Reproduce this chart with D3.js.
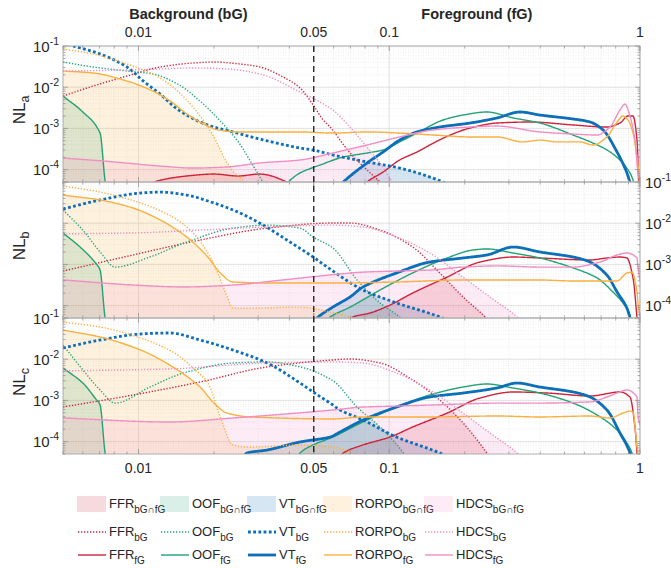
<!DOCTYPE html>
<html>
<head>
<meta charset="utf-8">
<script src="https://cdn.jsdelivr.net/npm/d3@7"></script>
<style>
  body { margin: 0; background: #fff; }
  text { font-family: "Liberation Sans", Arial, sans-serif; fill: #262626; }
  .legend text { font-family: "Liberation Sans Narrow", "Arial Narrow", "Liberation Sans", sans-serif; }
</style>
</head>
<body>
<div id="chart"></div>
<script>
// ---- data (x = fraction, y = NL) ----
var xDomain = [0.005, 1];
var yDomain = [5e-5, 0.1];
var xTickValues = [0.01, 0.05, 0.1, 1];
var xTickLabels = ["0.01", "0.05", "0.1", "1"];
var yTickExponents = [-1, -2, -3, -4];
var methods = ["FFR", "OOF", "VT", "RORPO", "HDCS"];
var panelNames = ["a", "b", "c"];
var legendSubs = ["bG\u2229fG", "bG", "fG"];

// panel a
var ffrBgA = [[0.005,6.1e-3],[0.0066,1.07e-2],[0.009,1.87e-2],[0.0122,3.09e-2],[0.0165,3.87e-2],[0.02,4.09e-2],[0.0254,3.66e-2],[0.0305,3.09e-2],[0.0377,1.77e-2],[0.0441,9.6e-3],[0.0497,3.7e-3],[0.0545,1.6e-3],[0.0581,1.08e-3],[0.0698,2.53e-4],[0.0816,9.8e-5],[0.092,5e-5],[0.1,3e-5]];
var ffrFgA = [[0.005,3e-5],[0.0101,3e-5],[0.0119,5.3e-5],[0.0156,7e-5],[0.02,7.8e-5],[0.0249,7e-5],[0.0305,7.8e-5],[0.0391,5e-5],[0.0441,3e-5],[0.0765,3e-5],[0.0816,5e-5],[0.0945,8.7e-5],[0.11,1.71e-4],[0.129,2.67e-4],[0.15,4.4e-4],[0.175,6.9e-4],[0.21,1.02e-3],[0.269,1.35e-3],[0.364,1.43e-3],[0.541,1.21e-3],[0.738,1.08e-3],[0.832,1.35e-3],[0.896,2.0e-3],[0.938,2.0e-3],[0.973,5.2e-4],[0.991,3e-5]];
var oofBgA = [[0.005,4.09e-2],[0.0066,3.09e-2],[0.009,2.47e-2],[0.0114,2.09e-2],[0.0143,1.2e-2],[0.0176,4.6e-3],[0.0212,1.51e-3],[0.0249,4.9e-4],[0.0279,1.62e-4],[0.0305,6.6e-5],[0.0328,3e-5]];
var oofFgA = [[0.005,6.1e-3],[0.006,2.5e-3],[0.00703,7.7e-4],[0.00736,5.3e-5],[0.0075,3e-5],[0.0367,3e-5],[0.0395,5e-5],[0.0441,8.3e-5],[0.053,1.29e-4],[0.0656,2.02e-4],[0.0816,2.53e-4],[0.0945,2.99e-4],[0.11,4.7e-4],[0.129,7.7e-4],[0.164,1.6e-3],[0.197,2.11e-3],[0.245,2.5e-3],[0.312,1.79e-3],[0.399,1.35e-3],[0.541,6.9e-4],[0.65,4.4e-4],[0.738,3.0e-4],[0.832,1.71e-4],[0.912,8.3e-5],[0.946,4.8e-5],[0.963,3e-5]];
var vtBgA = [[0.005,1.18e-1],[0.0055,1.0e-1],[0.00703,6.4e-2],[0.009,3.09e-2],[0.01045,1.41e-2],[0.0122,6.8e-3],[0.01426,2.96e-3],[0.0176,1.43e-3],[0.02,1.08e-3],[0.0238,8.2e-4],[0.0305,5.5e-4],[0.0441,3.34e-4],[0.0497,2.99e-4],[0.0596,2.26e-4],[0.0816,1.53e-4],[0.11,1.09e-4],[0.164,5e-5],[0.192,3e-5]];
var vtFgA = [[0.0608,3e-5],[0.0656,5e-5],[0.0816,1.45e-4],[0.0945,2.67e-4],[0.11,5.2e-4],[0.129,8.2e-4],[0.159,1.08e-3],[0.21,1.35e-3],[0.269,1.79e-3],[0.332,2.5e-3],[0.399,2.11e-3],[0.541,1.69e-3],[0.632,1.43e-3],[0.712,9.2e-4],[0.81,2.67e-4],[0.887,8.3e-5],[0.912,4.8e-5],[0.93,3e-5]];
var rorpoBgA = [[0.005,8.5e-2],[0.0066,6.4e-2],[0.009,3.66e-2],[0.0114,2.09e-2],[0.0137,1.01e-2],[0.0161,3.9e-3],[0.0182,1.51e-3],[0.02,6.2e-4],[0.0219,2.02e-4],[0.0238,9.3e-5],[0.0263,5.2e-5],[0.0279,3e-5]];
var rorpoFgA = [[0.005,2.47e-2],[0.0066,2.21e-2],[0.009,1.41e-2],[0.0114,8.1e-3],[0.0134,4.6e-3],[0.0156,2.24e-3],[0.0182,1.28e-3],[0.0207,9.2e-4],[0.0249,8.2e-4],[0.0441,8.2e-4],[0.0596,7.7e-4],[0.0816,8.2e-4],[0.11,7.7e-4],[0.15,6.9e-4],[0.21,6.2e-4],[0.269,6.2e-4],[0.341,4.7e-4],[0.399,5.2e-4],[0.467,4.7e-4],[0.576,4.7e-4],[0.65,3.95e-4],[0.738,6.2e-4],[0.81,1.43e-3],[0.855,2.0e-3],[0.896,1.6e-3],[0.938,7.7e-4],[0.973,2.02e-4],[0.991,7.4e-5],[1.0,3e-5]];
var hdcsBgA = [[0.005,2.47e-2],[0.009,2.61e-2],[0.0122,2.77e-2],[0.0165,2.92e-2],[0.0226,2.77e-2],[0.0305,2.09e-2],[0.0441,7.6e-3],[0.0596,2.8e-3],[0.0656,1.6e-3],[0.0816,3.5e-4],[0.0945,1.16e-4],[0.103,5e-5],[0.11,3e-5]];
var hdcsFgA = [[0.005,1.91e-4],[0.0072,1.62e-4],[0.0122,1.22e-4],[0.0165,1.09e-4],[0.0226,1.16e-4],[0.0305,1.45e-4],[0.0441,1.71e-4],[0.0596,2.53e-4],[0.0816,3.96e-4],[0.11,6.2e-4],[0.15,9.2e-4],[0.21,1.08e-3],[0.269,1.14e-3],[0.399,8.2e-4],[0.541,7.3e-4],[0.674,6.9e-4],[0.759,1.08e-3],[0.832,2.8e-3],[0.871,3.9e-3],[0.904,2.37e-3],[0.955,5.2e-4],[0.982,8.3e-5],[1.0,5.6e-5]];

// panel b
var ffrBgB = [[0.005,6.9e-4],[0.0095,1.69e-3],[0.0176,3.9e-3],[0.0326,7.6e-3],[0.0596,1.01e-2],[0.0698,1.01e-2],[0.0919,6.8e-3],[0.124,2.64e-3],[0.159,6.2e-4],[0.197,1.62e-4],[0.241,5.3e-5],[0.26,3e-5]];
var ffrFgB = [[0.0666,3e-5],[0.0717,5.3e-5],[0.0838,6.6e-5],[0.1007,1.03e-4],[0.124,2.02e-4],[0.17,4.9e-4],[0.23,1.14e-3],[0.312,1.51e-3],[0.399,1.43e-3],[0.632,1.28e-3],[0.738,1.43e-3],[0.832,1.51e-3],[0.887,1.43e-3],[0.938,4.7e-4],[0.973,5e-5],[0.98,3e-5]];
var oofBgB = [[0.005,2.09e-2],[0.006,6.8e-3],[0.00703,2.0e-3],[0.00807,8.6e-4],[0.0111,1.51e-3],[0.0156,3.5e-3],[0.0238,7.6e-3],[0.0326,9.0e-3],[0.0441,7.6e-3],[0.0497,4.6e-3],[0.0596,2.5e-3],[0.0744,4.2e-4],[0.0919,1.16e-4],[0.11,5.3e-5],[0.121,3e-5]];
var oofFgB = [[0.005,5.8e-3],[0.00585,2.64e-3],[0.00684,9.7e-4],[0.00703,7.3e-4],[0.00736,5e-5],[0.0075,3e-5],[0.053,3e-5],[0.0581,5.3e-5],[0.0698,9.2e-5],[0.0919,2.39e-4],[0.124,6.2e-4],[0.17,1.43e-3],[0.216,2.24e-3],[0.245,2.37e-3],[0.312,1.89e-3],[0.399,1.43e-3],[0.541,8.2e-4],[0.674,4.7e-4],[0.78,2.14e-4],[0.855,1.16e-4],[0.912,5.9e-5],[0.93,3e-5]];
var vtBgB = [[0.005,2.21e-2],[0.00703,3.66e-2],[0.0102,5.4e-2],[0.0122,5.7e-2],[0.0156,4.8e-2],[0.02,3.09e-2],[0.0254,1.77e-2],[0.0314,9.0e-3],[0.0391,3.9e-3],[0.0497,1.51e-3],[0.0581,7.7e-4],[0.0786,2.39e-4],[0.107,1.16e-4],[0.159,5.3e-5],[0.192,3e-5]];
var vtFgB = [[0.0483,3e-5],[0.0515,5e-5],[0.0596,9.2e-5],[0.0698,1.62e-4],[0.0786,2.83e-4],[0.107,6.2e-4],[0.145,1.14e-3],[0.197,1.43e-3],[0.245,1.69e-3],[0.312,2.64e-3],[0.399,2.0e-3],[0.541,1.51e-3],[0.632,1.14e-3],[0.738,5.5e-4],[0.81,2.14e-4],[0.887,8.7e-5],[0.912,5e-5],[0.93,3e-5]];
var rorpoBgB = [[0.005,8.0e-2],[0.00703,5.7e-2],[0.0102,3.09e-2],[0.0137,1.41e-2],[0.0165,5.8e-3],[0.0189,1.89e-3],[0.0207,6.2e-4],[0.0226,1.62e-4],[0.0238,8.7e-5],[0.0279,8.7e-5],[0.0441,9.2e-5],[0.0581,7.0e-5],[0.0698,5.3e-5],[0.0765,3e-5]];
var rorpoFgB = [[0.005,4.8e-2],[0.00703,3.66e-2],[0.0095,2.34e-2],[0.0122,1.2e-2],[0.0156,4.6e-3],[0.0189,1.51e-3],[0.0212,6.2e-4],[0.0238,3.74e-4],[0.0326,3.54e-4],[0.0636,3.54e-4],[0.107,3.74e-4],[0.197,4.18e-4],[0.399,4.18e-4],[0.541,3.96e-4],[0.81,3.96e-4],[0.887,6.2e-4],[0.929,6.5e-4],[0.973,2.14e-4],[0.982,1.16e-4],[1.0,5.3e-5]];
var hdcsBgB = [[0.005,5.5e-3],[0.0095,5.8e-3],[0.0176,6.8e-3],[0.0326,8.1e-3],[0.0596,9.0e-3],[0.0786,8.1e-3],[0.107,4.6e-3],[0.145,1.89e-3],[0.197,4.9e-4],[0.252,1.62e-4],[0.323,5.3e-5],[0.35,3e-5]];
var hdcsFgB = [[0.005,4.2e-4],[0.0095,3.16e-4],[0.0151,2.83e-4],[0.0238,3.16e-4],[0.0377,4.2e-4],[0.0636,5.85e-4],[0.0786,6.5e-4],[0.107,6.9e-4],[0.145,7.3e-4],[0.197,8.6e-4],[0.269,9.2e-4],[0.399,8.6e-4],[0.541,8.6e-4],[0.693,1.14e-3],[0.81,1.69e-3],[0.887,1.89e-3],[0.973,1.43e-3],[0.982,8.2e-4],[1.0,4.2e-4]];

// panel c
var ffrBgC = [[0.005,6.9e-4],[0.0095,1.35e-3],[0.0176,2.8e-3],[0.0326,6.5e-3],[0.0596,9.6e-3],[0.0698,1.01e-2],[0.0919,8.1e-3],[0.124,3.13e-3],[0.159,1.02e-3],[0.197,2.83e-4],[0.245,5.3e-5],[0.26,3e-5]];
var ffrFgC = [[0.0608,3e-5],[0.0656,5.3e-5],[0.0786,8.3e-5],[0.1007,1.29e-4],[0.124,2.26e-4],[0.17,4.9e-4],[0.23,1.14e-3],[0.312,1.6e-3],[0.426,1.51e-3],[0.632,1.28e-3],[0.832,1.6e-3],[0.912,1.21e-3],[0.955,2.26e-4],[0.973,5.3e-5],[0.98,3e-5]];
var oofBgC = [[0.005,2.21e-2],[0.006,5.5e-3],[0.00703,1.79e-3],[0.00807,8.6e-4],[0.0111,2.11e-3],[0.0156,4.9e-3],[0.0238,8.1e-3],[0.0326,8.6e-3],[0.0441,6.5e-3],[0.0596,3.0e-3],[0.0744,6.9e-4],[0.0919,2.26e-4],[0.114,5.3e-5],[0.121,3e-5]];
var oofFgC = [[0.005,6.1e-3],[0.006,2.64e-3],[0.00671,1.14e-3],[0.00703,7.7e-4],[0.00736,5.3e-5],[0.0075,3e-5],[0.042,3e-5],[0.0441,5.3e-5],[0.0497,8.3e-5],[0.0596,1.29e-4],[0.0786,3.0e-4],[0.107,6.9e-4],[0.145,1.35e-3],[0.197,2.11e-3],[0.245,2.5e-3],[0.312,2.0e-3],[0.399,1.51e-3],[0.541,8.6e-4],[0.693,4.0e-4],[0.81,1.91e-4],[0.887,9.2e-5],[0.929,5.3e-5],[0.946,3e-5]];
var vtBgC = [[0.005,1.87e-2],[0.00703,2.92e-2],[0.0102,4.09e-2],[0.0133,4.33e-2],[0.0176,2.92e-2],[0.0238,1.67e-2],[0.0326,8.1e-3],[0.0441,2.64e-3],[0.0497,1.6e-3],[0.0581,8.6e-4],[0.0636,5.85e-4],[0.0786,3.34e-4],[0.107,1.29e-4],[0.159,5.3e-5],[0.192,3e-5]];
var vtFgC = [[0.0254,3e-5],[0.0271,5.3e-5],[0.0326,6.25e-5],[0.0441,9.8e-5],[0.0581,1.29e-4],[0.0636,1.71e-4],[0.0786,3.34e-4],[0.107,6.9e-4],[0.145,1.21e-3],[0.197,1.51e-3],[0.269,2.0e-3],[0.323,2.64e-3],[0.399,2.11e-3],[0.541,1.6e-3],[0.632,1.21e-3],[0.738,5.85e-4],[0.832,1.62e-4],[0.912,5.3e-5],[0.93,3e-5]];
var rorpoBgC = [[0.005,8.0e-2],[0.00703,6.05e-2],[0.0102,3.27e-2],[0.0137,1.5e-2],[0.0165,6.1e-3],[0.0189,2.64e-3],[0.0212,3.96e-4],[0.0238,8.3e-5],[0.0279,7.4e-5],[0.0441,8.3e-5],[0.0596,7.4e-5],[0.0698,5.6e-5],[0.0765,3e-5]];
var rorpoFgC = [[0.005,5.1e-2],[0.00703,3.46e-2],[0.0102,1.67e-2],[0.0137,6.5e-3],[0.0176,2.11e-3],[0.02,8.6e-4],[0.0226,4.9e-4],[0.0279,3.96e-4],[0.0596,3.54e-4],[0.0786,3.96e-4],[0.145,3.96e-4],[0.269,4.18e-4],[0.399,3.96e-4],[0.632,4.18e-4],[0.759,3.74e-4],[0.855,4.9e-4],[0.912,5.5e-4],[0.938,5.2e-4],[0.973,7.4e-5],[0.982,5.3e-5],[1.0,3e-5]];
var hdcsBgC = [[0.005,5.2e-3],[0.0133,5.8e-3],[0.0326,8.1e-3],[0.0596,8.6e-3],[0.0786,8.1e-3],[0.107,4.6e-3],[0.145,1.79e-3],[0.197,4.9e-4],[0.252,1.62e-4],[0.323,5.3e-5],[0.35,3e-5]];
var hdcsFgC = [[0.005,3.74e-4],[0.0133,2.99e-4],[0.0238,3.74e-4],[0.0596,5.85e-4],[0.0786,6.9e-4],[0.107,7.3e-4],[0.145,7.7e-4],[0.197,8.2e-4],[0.269,8.6e-4],[0.399,8.6e-4],[0.632,9.2e-4],[0.738,1.21e-3],[0.832,1.6e-3],[0.887,1.79e-3],[0.973,1.21e-3],[0.982,4.0e-4],[1.0,2.5e-4]];

var bgData = [
  [ffrBgA, oofBgA, vtBgA, rorpoBgA, hdcsBgA],
  [ffrBgB, oofBgB, vtBgB, rorpoBgB, hdcsBgB],
  [ffrBgC, oofBgC, vtBgC, rorpoBgC, hdcsBgC]
];
var fgData = [
  [ffrFgA, oofFgA, vtFgA, rorpoFgA, hdcsFgA],
  [ffrFgB, oofFgB, vtFgB, rorpoFgB, hdcsFgB],
  [ffrFgC, oofFgC, vtFgC, rorpoFgC, hdcsFgC]
];

// ---- style ----
var colors = ["#d0233a", "#21a374", "#0c6fba", "#fbb040", "#f28ec4"];
var lineW = [1.4, 1.4, 2.8, 1.4, 1.4];
var fillOpacity = 0.17;

var width = 671, height = 568;
var plotLeft = 63, plotRight = 640;
var panelTops = [46, 182, 318];
var panelH = 136;

var svg = d3.select("#chart").append("svg")
    .attr("width", width)
    .attr("height", height);

var x = d3.scaleLog().domain(xDomain).range([plotLeft, plotRight]);

// monotone cubic in log-log space so lines and fills share one shape
function makeInterp(pts) {
  var xs = pts.map(function(p) { return Math.log10(p[0]); });
  var ys = pts.map(function(p) { return Math.log10(p[1]); });
  var n = xs.length, d = [], m = [];
  for (var i = 0; i < n - 1; i++) d[i] = (ys[i+1] - ys[i]) / (xs[i+1] - xs[i]);
  m[0] = d[0]; m[n-1] = d[n-2];
  for (var i = 1; i < n - 1; i++) {
    if (d[i-1] * d[i] <= 0) m[i] = 0;
    else m[i] = 2 / (1 / d[i-1] + 1 / d[i]);
  }
  return function(xv) {
    var lx = Math.log10(xv);
    if (lx <= xs[0]) return Math.pow(10, ys[0]);
    if (lx >= xs[n-1]) return Math.pow(10, ys[n-1]);
    var k = d3.bisectRight(xs, lx) - 1;
    var h = xs[k+1] - xs[k], t = (lx - xs[k]) / h;
    var t2 = t * t, t3 = t2 * t;
    var v = (2*t3 - 3*t2 + 1) * ys[k] + (t3 - 2*t2 + t) * h * m[k] +
            (-2*t3 + 3*t2) * ys[k+1] + (t3 - t2) * h * m[k+1];
    return Math.pow(10, v);
  };
}

var sampleX = d3.range(0, 801).map(function(i) {
  return xDomain[0] * Math.pow(xDomain[1] / xDomain[0], i / 800);
});

function unionX(lists) {
  var all = sampleX.slice();
  lists.forEach(function(l) { l.forEach(function(p) { all.push(p[0]); }); });
  all.sort(d3.ascending);
  return all.filter(function(v, i) { return i == 0 || v != all[i-1]; });
}

function logTicks(lo, hi) {
  var out = [];
  for (var e = Math.floor(Math.log10(lo)); e <= Math.ceil(Math.log10(hi)); e++) {
    for (var k = 1; k < 10; k++) {
      var v = +(k * Math.pow(10, e)).toPrecision(3);
      if (v >= lo * 0.999 && v <= hi * 1.001) out.push(v);
    }
  }
  return out;
}
var xMinor = logTicks(xDomain[0], xDomain[1]);
var yMinor = logTicks(yDomain[0], yDomain[1]);
var xMajorGrid = [0.01, 0.1, 1];
var yMajor = yTickExponents.map(function(e) { return Math.pow(10, e); });

panelNames.forEach(function(name, p) {
  var top = panelTops[p], bottom = top + panelH;
  var y = d3.scaleLog().domain(yDomain).range([bottom, top]);
  var g = svg.append("g").attr("class", "panel-" + name);

  g.append("clipPath").attr("id", "clip" + p)
    .append("rect")
    .attr("x", plotLeft).attr("y", top)
    .attr("width", plotRight - plotLeft).attr("height", panelH);

  // grid
  g.selectAll(".ygridm").data(yMinor).enter().append("line")
    .attr("x1", plotLeft).attr("x2", plotRight)
    .attr("y1", function(d) { return y(d); }).attr("y2", function(d) { return y(d); })
    .style("stroke", "#e4e4e4").style("stroke-width", 0.6).style("stroke-dasharray", "1,1.5");
  g.selectAll(".xgridm").data(xMinor).enter().append("line")
    .attr("y1", top).attr("y2", bottom)
    .attr("x1", function(d) { return x(d); }).attr("x2", function(d) { return x(d); })
    .style("stroke", "#e4e4e4").style("stroke-width", 0.6).style("stroke-dasharray", "1,1.5");
  g.selectAll(".ygrid").data(yMajor).enter().append("line")
    .attr("x1", plotLeft).attr("x2", plotRight)
    .attr("y1", function(d) { return y(d); }).attr("y2", function(d) { return y(d); })
    .style("stroke", "#d8d8d8").style("stroke-width", 0.7);
  g.selectAll(".xgrid").data(xMajorGrid).enter().append("line")
    .attr("y1", top).attr("y2", bottom)
    .attr("x1", function(d) { return x(d); }).attr("x2", function(d) { return x(d); })
    .style("stroke", "#d8d8d8").style("stroke-width", 0.7);

  var plot = g.append("g").attr("clip-path", "url(#clip" + p + ")");

  // intersection fills: area under min(bG, fG)
  methods.forEach(function(m, i) {
    var fb = makeInterp(bgData[p][i]), ff = makeInterp(fgData[p][i]);
    var xs = unionX([bgData[p][i], fgData[p][i]]);
    var pts = xs.map(function(v) { return [v, Math.max(Math.min(fb(v), ff(v)), yDomain[0])]; });
    var area = d3.area()
      .x(function(d) { return x(d[0]); })
      .y0(bottom)
      .y1(function(d) { return y(d[1]); });
    plot.append("path").datum(pts)
      .attr("d", area)
      .style("fill", colors[i])
      .style("fill-opacity", fillOpacity)
      .style("stroke", "none");
  });

  var line = d3.line()
    .x(function(d) { return x(d[0]); })
    .y(function(d) { return y(Math.max(d[1], 1e-5)); });

  methods.forEach(function(m, i) {
    [bgData[p][i], fgData[p][i]].forEach(function(src, k) {
      var f = makeInterp(src);
      var xs = unionX([src]).filter(function(v) {
        return v >= src[0][0] && v <= src[src.length-1][0];
      });
      var pts = xs.map(function(v) { return [v, f(v)]; });
      plot.append("path").datum(pts)
        .attr("d", line)
        .style("fill", "none")
        .style("stroke", colors[i])
        .style("stroke-width", lineW[i])
        .style("stroke-dasharray", k == 0 ? (i == 2 ? "2.8,2.4" : "1.3,1.7") : null)
        .style("stroke-linejoin", "round");
    });
  });

  // frame + ticks
  g.append("rect")
    .attr("x", plotLeft).attr("y", top)
    .attr("width", plotRight - plotLeft).attr("height", panelH)
    .style("fill", "none").style("stroke", "#a0a0a0").style("stroke-width", 0.8);

  var tickColor = "#8a8a8a";
  yMinor.forEach(function(v) {
    var len = yMajor.indexOf(v) >= 0 ? 5 : 2.5;
    g.append("line").attr("x1", plotLeft).attr("x2", plotLeft + len)
      .attr("y1", y(v)).attr("y2", y(v)).style("stroke", tickColor).style("stroke-width", 0.7);
    g.append("line").attr("x1", plotRight).attr("x2", plotRight - len)
      .attr("y1", y(v)).attr("y2", y(v)).style("stroke", tickColor).style("stroke-width", 0.7);
  });
  xMinor.concat([0.05]).forEach(function(v) {
    var len = xTickValues.indexOf(v) >= 0 ? 5 : 2.5;
    g.append("line").attr("y1", top).attr("y2", top + len)
      .attr("x1", x(v)).attr("x2", x(v)).style("stroke", tickColor).style("stroke-width", 0.7);
    g.append("line").attr("y1", bottom).attr("y2", bottom - len)
      .attr("x1", x(v)).attr("x2", x(v)).style("stroke", tickColor).style("stroke-width", 0.7);
  });

  // y tick labels: left for a and c, right for b
  var onRight = (p == 1);
  yTickExponents.forEach(function(e) {
    var t = g.append("text")
      .attr("x", onRight ? plotRight + 5 : plotLeft - 4)
      .attr("y", y(Math.pow(10, e)) + 5.5)
      .attr("text-anchor", onRight ? "start" : "end")
      .style("font-size", "15px");
    t.append("tspan").text("10");
    t.append("tspan").attr("dy", -7).style("font-size", "10.5px").text("-" + Math.abs(e));
  });

  // y title
  var yt = g.append("text")
    .attr("transform", "translate(25," + (top + panelH / 2 - 4) + ") rotate(-90)")
    .attr("text-anchor", "middle")
    .style("font-size", "17px");
  yt.append("tspan").text("NL");
  yt.append("tspan").attr("dy", 4).style("font-size", "12.5px").text(name);
});

// split between background and foreground
svg.append("line")
  .attr("x1", x(0.05)).attr("x2", x(0.05))
  .attr("y1", panelTops[0]).attr("y2", panelTops[2] + panelH)
  .style("stroke", "#1a1a1a").style("stroke-width", 1.3).style("stroke-dasharray", "6,4");

// x tick labels top and bottom
xTickValues.forEach(function(v, i) {
  svg.append("text").attr("x", x(v)).attr("y", 37).attr("text-anchor", "middle")
    .style("font-size", "14px").text(xTickLabels[i]);
  svg.append("text").attr("x", x(v)).attr("y", 473).attr("text-anchor", "middle")
    .style("font-size", "14px").text(xTickLabels[i]);
});

svg.append("text").attr("x", (x(xDomain[0]) + x(0.05)) / 2).attr("y", 19)
  .attr("text-anchor", "middle").style("font-size", "14.5px").style("font-weight", "bold")
  .text("Background (bG)");
svg.append("text").attr("x", (x(0.05) + x(xDomain[1])) / 2).attr("y", 19)
  .attr("text-anchor", "middle").style("font-size", "14.5px").style("font-weight", "bold")
  .text("Foreground (fG)");

// legend
var legendColX = [77, 160, 247, 323, 424];
var legendRowY = [504, 532, 555];
var legend = svg.append("g").attr("class", "legend");
methods.forEach(function(m, i) {
  legendSubs.forEach(function(sub, r) {
    var cy = legendRowY[r], lx = legendColX[i];
    if (r == 0) {
      legend.append("rect").attr("x", lx).attr("y", cy - 8).attr("width", 29).attr("height", 16)
        .style("fill", colors[i]).style("fill-opacity", fillOpacity);
    } else {
      legend.append("line").attr("x1", lx + 1).attr("x2", lx + 29).attr("y1", cy).attr("y2", cy)
        .style("stroke", colors[i]).style("stroke-width", lineW[i])
        .style("stroke-dasharray", r == 1 ? (i == 2 ? "2.8,2.4" : "1.3,1.7") : null);
    }
    var t = legend.append("text").attr("x", lx + 32).attr("y", cy + 3.5).style("font-size", "13px");
    t.append("tspan").text(m);
    t.append("tspan").attr("dy", 5).style("font-size", "10px").text(sub);
  });
});
</script>
</body>
</html>
